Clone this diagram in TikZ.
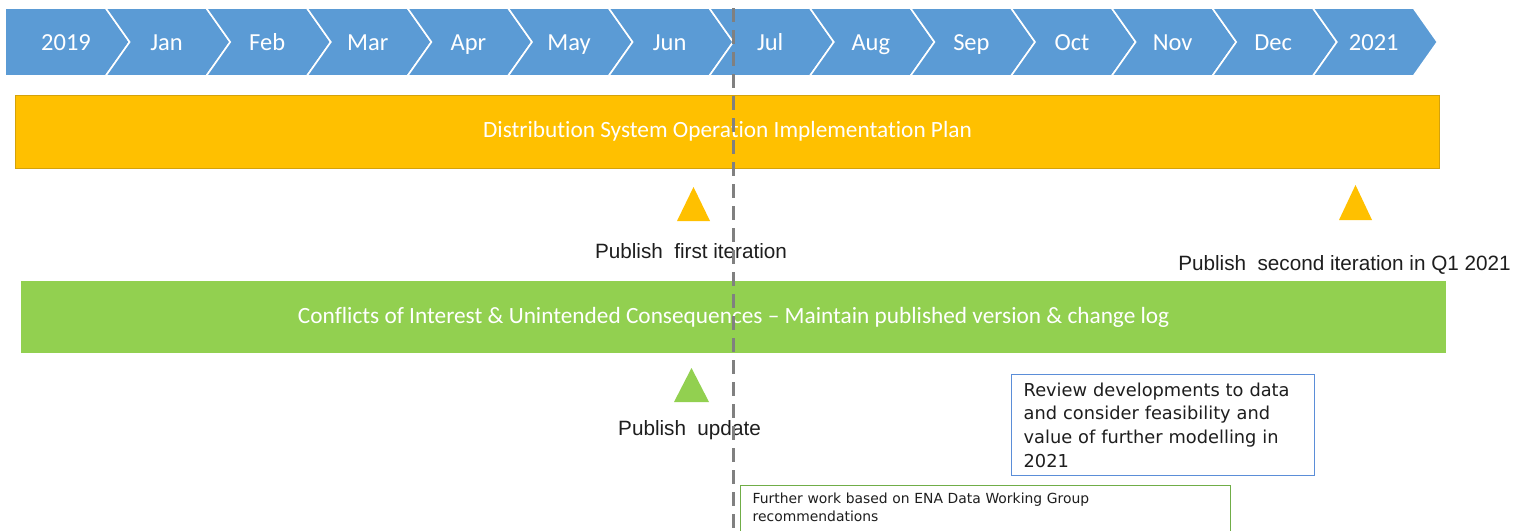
\documentclass[tikz,border=0pt]{standalone}
\usepackage{fontspec}
\setmainfont{Carlito}[RawFeature={-liga;-clig}]
\newfontfamily\labelfont{Liberation Sans}
\newfontfamily\notefont{DejaVu Sans}

\definecolor{chevblue}{HTML}{5B9BD5}
\definecolor{planorange}{HTML}{FFC000}
\definecolor{planedge}{HTML}{D4A20A}
\definecolor{coigreen}{HTML}{92D050}
\definecolor{boxblue}{HTML}{5B8ED8}
\definecolor{boxgreen}{HTML}{70AD47}
\definecolor{todaygray}{HTML}{808080}
\definecolor{ink}{HTML}{1E1E1E}

\tikzset{
  chevron/.style={fill=chevblue, draw=white, line width=1.6pt, line join=miter},
  monthlabel/.style={text=white, inner sep=0pt, anchor=base,
    font=\fontsize{24.5}{24}\selectfont},
  barlabel/.style={text=white, inner sep=0pt, font=\fontsize{23.3}{24}\selectfont},
  planbar/.style={fill=planorange, draw=planedge, line width=1pt, anchor=north west,
    minimum width=1424pt, minimum height=73pt, barlabel},
  coibar/.style={fill=coigreen, anchor=north west,
    minimum width=1425pt, minimum height=72pt, barlabel},
  milestone/.style={text=ink, inner sep=0pt, font=\labelfont\fontsize{20.7}{22}\selectfont},
  notebox/.style={anchor=north west, align=left, line width=1.3pt,
    inner xsep=12pt},
  todayline/.style={draw=todaygray, line width=3pt, dash pattern=on 14pt off 8pt}
}

\begin{document}
\begin{tikzpicture}[x=1pt,y=-1pt]
\useasboundingbox (0,0) rectangle (1525,530);
\fill[white] (0,0) rectangle (1525,530);

% month chevrons
\foreach \lab [count=\i from 0] in {2019,Jan,Feb,Mar,Apr,May,Jun,Jul,Aug,Sep,Oct,Nov,Dec,2021} {
  \pgfmathsetmacro\L{5+100.6*\i}
  \ifnum\i=0
    \path[chevron] (\L,8) -- ({\L+100.6},8) -- ({\L+124.6},42) -- ({\L+100.6},76)
      -- (\L,76) -- cycle;
  \else
    \path[chevron] (\L,8) -- ({\L+100.6},8) -- ({\L+124.6},42) -- ({\L+100.6},76)
      -- (\L,76) -- ({\L+24},42) -- cycle;
  \fi
  \node[monthlabel] (m\i) at ({\L+61},50) {\lab};
}

% work-stream bars
\node[planbar] (plan) at (15,94.5) {Distribution System Operation Implementation Plan};
\node[coibar] (coi) at (21,281) {Conflicts of Interest \& Unintended Consequences – Maintain published version \& change log};

% milestone markers
\fill[planorange] (677,221) -- (710,221) -- (693.5,187) -- cycle;
\fill[planorange] (1339,220) -- (1372,220) -- (1355.5,185) -- cycle;
\fill[coigreen] (674,402) -- (709,402) -- (691.5,368) -- cycle;

\node[milestone] (first) at (691,251) {Publish\hspace{0.55em}first iteration};
\node[milestone] (second) at (1344.5,265) {Publish\hspace{0.55em}second iteration in Q1 2021};
\node[milestone] (update) at (689.5,430) {Publish\hspace{0.55em}update};

% notes
\node[notebox, draw=boxblue, text width=279pt, minimum height=101pt,
  font=\notefont\fontsize{17.8}{23.7}\selectfont, text=ink] (review) at (1011,374)
  {Review developments to data\\and consider feasibility and\\value of further modelling in\\2021};
\node[notebox, draw=boxgreen, text width=466pt, inner ysep=7pt,
  font=\notefont\fontsize{13.9}{18}\selectfont, text=ink] (further) at (740,485)
  {Further work based on ENA Data Working Group\\recommendations\\[20pt]\mbox{}};

% current-date marker
\coordinate (today top) at (733,8);
\coordinate (today bottom) at (733,532);
\draw[todayline] (today top) -- (today bottom);
\end{tikzpicture}
\end{document}
